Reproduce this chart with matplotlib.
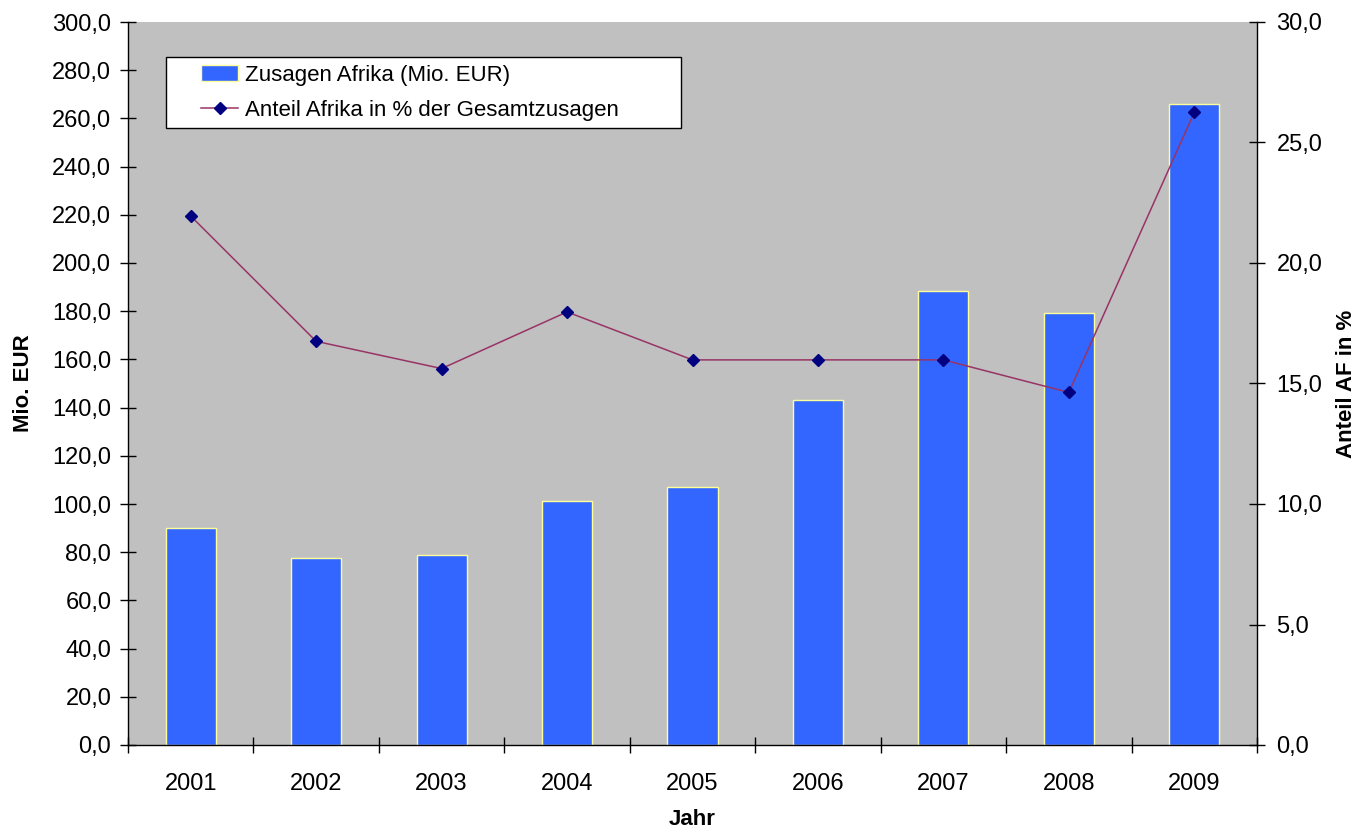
import matplotlib
matplotlib.use("Agg")
import matplotlib.pyplot as plt
from matplotlib.ticker import FuncFormatter, MultipleLocator
from matplotlib.patches import Rectangle

plt.rcParams['font.family'] = ['Liberation Sans', 'DejaVu Sans']

years = ['2001', '2002', '2003', '2004', '2005', '2006', '2007', '2008', '2009']
zusagen = [90.0, 77.5, 79.0, 101.3, 107.0, 143.2, 188.3, 179.3, 265.8]
anteil = [21.95, 16.75, 15.62, 17.97, 15.98, 15.98, 15.98, 14.63, 26.25]

W, H = 1360, 832
fig = plt.figure(figsize=(W / 100, H / 100), dpi=100)
L, R, T, B = 128, 1257, 22, 745
ax = fig.add_axes([L / W, 1 - B / H, (R - L) / W, (B - T) / H])
ax.set_facecolor('#c0c0c0')

x = list(range(len(years)))
bars = ax.bar(x, zusagen, width=0.4, color='#3366ff', edgecolor='#ffff99', linewidth=1.0,
              label='Zusagen Afrika (Mio. EUR)', zorder=2)
ax.set_xlim(-0.5, len(years) - 0.5)
ax.set_ylim(0, 300)
ax.yaxis.set_major_locator(MultipleLocator(20))
fmt = FuncFormatter(lambda v, p: f"{v:.1f}".replace('.', ','))
ax.yaxis.set_major_formatter(fmt)
ax.set_xticks([i + 0.5 for i in range(-1, len(years))])
ax.set_xticklabels([])
ax.set_xticks(x, minor=True)
ax.set_xticklabels(years, minor=True)
ax.tick_params(axis='x', which='minor', length=0, pad=20, labelsize=17)
ax.tick_params(axis='x', which='major', direction='inout', length=12, width=1)
ax.tick_params(axis='y', direction='inout', length=12, width=1, labelsize=17, pad=6)
for s in ['top', 'right']:
    ax.spines[s].set_visible(False)
ax.spines['left'].set_linewidth(1)
ax.spines['bottom'].set_linewidth(1)
ax.set_ylabel('Mio. EUR', fontsize=16, fontweight='bold', labelpad=13)
ax.set_xlabel('Jahr', fontsize=16, fontweight='bold', labelpad=10)

ax2 = ax.twinx()
line, = ax2.plot(x, anteil, color='#993366', linewidth=1.1, marker='D', markersize=6.5,
                 markerfacecolor='#000080', markeredgecolor='#000080',
                 label='Anteil Afrika in % der Gesamtzusagen', zorder=3)
ax2.set_ylim(0, 30)
ax2.yaxis.set_major_locator(MultipleLocator(5))
ax2.yaxis.set_major_formatter(fmt)
ax2.tick_params(axis='y', direction='inout', length=12, width=1, labelsize=17, pad=8)
for s in ['top', 'left', 'bottom']:
    ax2.spines[s].set_visible(False)
ax2.spines['right'].set_linewidth(1)
ax2.set_ylabel('Anteil AF in %', fontsize=16, fontweight='bold', labelpad=10)

# legend frame
frame = Rectangle((166 / W, 1 - 128 / H), (681 - 166) / W, (128 - 57) / H,
                  transform=fig.transFigure, facecolor='white', edgecolor='black',
                  linewidth=1, zorder=5)
ax2.add_artist(frame)
frame.set_clip_on(False)

leg = ax2.legend([bars, line], [bars.get_label(), line.get_label()],
                 loc='upper left', bbox_to_anchor=(194 / W, 1 - 58 / H),
                 bbox_transform=fig.transFigure,
                 fontsize=16, frameon=False, borderpad=0.3, labelspacing=0.65,
                 handlelength=1.7, handletextpad=0.3, borderaxespad=0)
leg.set_zorder(6)

fig.savefig('out.png', dpi=100, facecolor='white')
